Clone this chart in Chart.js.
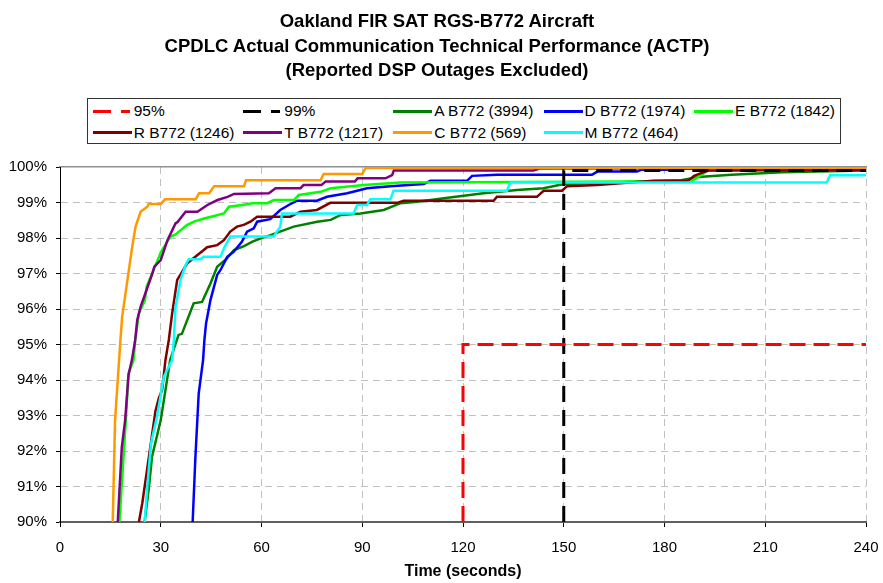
<!DOCTYPE html>
<html>
<head>
<meta charset="utf-8">
<script src="https://cdn.jsdelivr.net/npm/chart.js@4.4.0/dist/chart.umd.min.js"></script>
<style>
    html, body { margin: 0; padding: 0; background: #fff; }
    #wrap { position: relative; width: 883px; height: 583px; font-family: "Liberation Sans", Arial, sans-serif; color: #000; }
    #chart { position: absolute; left: 0; top: 0; }
    #title { position: absolute; left: 0; top: 9px; width: 874px; text-align: center; font-weight: bold; font-size: 18.5px; line-height: 24.6px; }
    #legend { position: absolute; left: 87px; top: 98px; width: 754px; height: 46px; border: 1px solid #333; box-sizing: border-box; background: #fff; }
    .item { position: absolute; display: flex; align-items: center; height: 20px; font-size: 15.5px; white-space: nowrap; }
    .swatch { width: 39px; height: 3px; margin-right: 2px; }
</style>
</head>
<body>
<div id="wrap">
    <canvas id="chart" width="883" height="583"></canvas>
    <div id="title">Oakland FIR SAT RGS-B772 Aircraft<br>CPDLC Actual Communication Technical Performance (ACTP)<br>(Reported DSP Outages Excluded)</div>
    <div id="legend"></div>
</div>
<script>
// ---------------------------------------------------------------------------
// Data (time in seconds, cumulative percent)
// ---------------------------------------------------------------------------
const xTicks = [0, 30, 60, 90, 120, 150, 180, 210, 240];
const yTicks = [90, 91, 92, 93, 94, 95, 96, 97, 98, 99, 100];

const ref95Time = [120, 120, 240];
const ref95Pct = [90, 95, 95];
const ref99Time = [150, 150, 240];
const ref99Pct = [90, 99.9, 99.9];

const aTime = [25.2, 26.5, 27.4, 30.0, 32.8, 34.8, 35.3, 36.3, 39.8, 42.3, 44.8, 46.8, 49.8, 51.8, 54.8, 57.3, 59.8, 62.7, 69.6, 76.6, 80.6, 83.6, 89.5, 96.4, 101.4, 106.4, 114.3, 126.1, 136.1, 144, 150, 160, 175, 185, 190, 200, 215, 240];
const aPct = [90, 91.0, 91.84, 92.87, 94.56, 95.13, 95.27, 95.3, 96.16, 96.2, 96.72, 97.19, 97.43, 97.66, 97.77, 97.9, 97.99, 98.08, 98.32, 98.46, 98.51, 98.65, 98.69, 98.79, 98.98, 99.02, 99.12, 99.26, 99.35, 99.4, 99.52, 99.55, 99.6, 99.63, 99.72, 99.78, 99.85, 99.9];

const dTime = [39.5, 40.3, 41.3, 42.6, 43.0, 43.5, 44.8, 46.8, 47.8, 49.8, 51.7, 54.2, 55.7, 57.7, 58.7, 62.6, 65.6, 68.1, 70.6, 76.5, 79.5, 85.5, 88.5, 91.4, 98.4, 108.3, 110.3, 121.2, 122.7, 130.1, 158.4, 160, 171.8, 173, 180.8, 182, 193, 195, 240];
const dPct = [90, 91.79, 93.62, 94.56, 95.13, 95.6, 96.25, 96.96, 97.1, 97.47, 97.61, 97.9, 98.18, 98.27, 98.46, 98.53, 98.79, 98.93, 99.05, 99.05, 99.16, 99.26, 99.33, 99.4, 99.46, 99.52, 99.61, 99.61, 99.75, 99.78, 99.78, 99.87, 99.87, 99.92, 99.92, 99.95, 99.95, 99.98, 99.98];

const eTime = [17.7, 19.6, 20.4, 21.9, 22.4, 23.5, 25.3, 25.8, 29.5, 30.0, 32.9, 34.4, 37.9, 39.9, 42.9, 45.9, 48.8, 50.3, 54.3, 57.3, 61.7, 63.7, 69.6, 71.1, 77.6, 80.6, 90.4, 101.3, 188, 193, 240];
const ePct = [90, 92.87, 94.19, 94.56, 95.13, 95.88, 96.25, 96.63, 97.47, 97.6, 98.04, 98.1, 98.37, 98.46, 98.55, 98.62, 98.69, 98.88, 98.93, 98.98, 98.98, 99.07, 99.07, 99.21, 99.3, 99.4, 99.49, 99.56, 99.6, 99.9, 99.95];

const rTime = [23.5, 24.5, 26.9, 28.4, 29.4, 30.4, 31.4, 32.4, 33.4, 34.9, 36.4, 37.9, 40.3, 42.8, 43.8, 46.8, 48.8, 50.7, 52.7, 54.7, 56.7, 58.7, 68.6, 71.6, 76.5, 80.5, 100.4, 102.3, 129.1, 130.1, 142, 144, 149.5, 151, 160, 176.8, 187, 188.8, 190.7, 193, 240];
const rPct = [90, 90.53, 92.12, 93.11, 93.48, 93.72, 94.56, 95.13, 95.88, 96.82, 97.05, 97.29, 97.47, 97.66, 97.74, 97.8, 97.94, 98.18, 98.32, 98.37, 98.46, 98.6, 98.6, 98.74, 98.79, 98.99, 98.99, 99.05, 99.05, 99.16, 99.16, 99.33, 99.33, 99.46, 99.49, 99.61, 99.61, 99.75, 99.82, 99.9, 99.92];

const tTime = [17.2, 18.4, 19.4, 20.4, 21.4, 22.4, 23.0, 24.0, 27.5, 28.1, 30.0, 32.0, 34.4, 35.0, 37.4, 40.9, 43.9, 46.9, 49.9, 51.8, 62.2, 64.2, 71.6, 72.5, 77.8, 79.1, 87.8, 88.6, 96.9, 98.9, 99.4, 141, 143, 240];
const tPct = [90, 92.1, 92.87, 94.14, 94.56, 95.13, 95.69, 96.06, 97.0, 97.19, 97.38, 97.94, 98.41, 98.45, 98.74, 98.74, 98.93, 99.07, 99.16, 99.24, 99.26, 99.4, 99.4, 99.49, 99.49, 99.59, 99.59, 99.68, 99.68, 99.77, 99.9, 99.9, 99.96, 99.98];

const cTime = [15.7, 16.4, 18.0, 18.5, 21.5, 22.5, 24.0, 26.0, 26.4, 30.0, 31.3, 40.4, 41.4, 44.4, 45.9, 54.8, 55.4, 77.6, 78.5, 90.0, 91.0, 240];
const cPct = [90, 92.87, 95.13, 95.78, 97.75, 98.32, 98.74, 98.88, 98.96, 98.96, 99.09, 99.09, 99.26, 99.26, 99.46, 99.46, 99.63, 99.63, 99.8, 99.8, 99.97, 99.98];

const mTime = [25.2, 26.0, 27.1, 28.9, 30.9, 33.4, 33.9, 34.4, 35.9, 37.4, 38.3, 41.8, 42.8, 47.8, 48.8, 50.7, 63.6, 65.6, 66.1, 87.4, 88.5, 91.4, 92.4, 98.4, 99.3, 133.1, 134.1, 228.3, 229.3, 240];
const mPct = [90, 91.0, 92.22, 92.97, 94.09, 94.56, 95.13, 96.06, 96.82, 97.24, 97.4, 97.4, 97.47, 97.47, 97.71, 98.04, 98.04, 98.32, 98.69, 98.69, 98.93, 98.93, 99.09, 99.09, 99.33, 99.33, 99.56, 99.56, 99.77, 99.77];

// ---------------------------------------------------------------------------
// Series setup
// ---------------------------------------------------------------------------
const FONT = '"Liberation Sans", Arial, sans-serif';
const pts = (t, p) => t.map((v, i) => ({ x: v, y: p[i] }));

const series = [
    { label: '95%', t: ref95Time, p: ref95Pct, color: '#ff0000', dash: [16, 8], order: 0 },
    { label: '99%', t: ref99Time, p: ref99Pct, color: '#000000', dash: [16, 8], order: 0 },
    { label: 'A B772 (3994)', t: aTime, p: aPct, color: '#008000', order: 7 },
    { label: 'D B772 (1974)', t: dTime, p: dPct, color: '#0000ff', order: 6 },
    { label: 'E B772 (1842)', t: eTime, p: ePct, color: '#00ff00', order: 5 },
    { label: 'R B772 (1246)', t: rTime, p: rPct, color: '#800000', order: 4 },
    { label: 'T B772 (1217)', t: tTime, p: tPct, color: '#800080', order: 3 },
    { label: 'C B772 (569)', t: cTime, p: cPct, color: '#ff9900', order: 2 },
    { label: 'M B772 (464)', t: mTime, p: mPct, color: '#00ffff', order: 1 }
];

const datasets = series.map(s => ({
    label: s.label,
    data: pts(s.t, s.p),
    borderColor: s.color,
    backgroundColor: s.color,
    borderWidth: s.dash ? 3 : 2.5,
    borderDash: s.dash || [],
    pointRadius: 0,
    tension: 0,
    fill: false,
    order: s.order
}));

// no automatic label overhang: the plot runs to 240 near the right edge
const noPad = s => { s.paddingLeft = 0; s.paddingRight = 0; };

// ---------------------------------------------------------------------------
// Chart
// ---------------------------------------------------------------------------
new Chart(document.getElementById('chart'), {
    type: 'line',
    data: { datasets },
    options: {
        responsive: false,
        animation: false,
        layout: { padding: { top: 167, right: 17, left: 0, bottom: 0 } },
        plugins: { legend: { display: false }, tooltip: { enabled: false } },
        scales: {
            x: {
                type: 'linear', position: 'bottom', min: 0, max: 240,
                afterBuildTicks: s => { s.ticks = xTicks.map(v => ({ value: v })); },
                ticks: { color: '#000', font: { size: 15, family: FONT }, padding: 12, maxRotation: 0 },
                grid: {
                    color: c => (c.tick && c.tick.value === 0) ? 'rgba(0,0,0,0)' : '#c0c0c0',
                    lineWidth: 1, tickLength: 5, tickColor: '#000'
                },
                border: { color: '#606060', width: 2, dash: [7, 5] },
                title: { display: true, text: 'Time (seconds)', color: '#000', font: { size: 16, weight: 'bold', family: FONT }, padding: { top: 0, bottom: 2 } },
                afterFit: s => { s.height = 61; noPad(s); }
            },
            xTop: {
                type: 'linear', position: 'top', min: 0, max: 240,
                ticks: { display: false },
                grid: { display: false, drawTicks: false },
                border: { color: '#909090', width: 1.5 },
                afterFit: s => { s.height = 0; noPad(s); }
            },
            y: {
                min: 90, max: 100,
                afterBuildTicks: s => { s.ticks = yTicks.map(v => ({ value: v })); },
                ticks: { color: '#000', font: { size: 15, family: FONT }, padding: 9, callback: v => v + '%' },
                grid: {
                    color: c => (c.tick && (c.tick.value === 90 || c.tick.value === 100)) ? 'rgba(0,0,0,0)' : '#c0c0c0',
                    lineWidth: 1, tickLength: 4, tickColor: '#000'
                },
                border: { color: '#000', width: 1, dash: [7, 5] },
                afterFit: s => { s.width = 60; }
            }
        }
    }
});

// ---------------------------------------------------------------------------
// Legend (boxed, two rows like the original)
// ---------------------------------------------------------------------------
const legendCols = [4.7, 155.3, 305.3, 455.6, 606];
const legendRows = [2.3, 23.7];
const legendEl = document.getElementById('legend');
series.forEach((s, i) => {
    const row = i < 5 ? 0 : 1;
    const col = i < 5 ? i : i - 5;
    const item = document.createElement('div');
    item.className = 'item';
    item.style.left = legendCols[col] + 'px';
    item.style.top = legendRows[row] + 'px';
    const sw = document.createElement('div');
    sw.className = 'swatch';
    if (s.dash) {
        sw.style.background = `linear-gradient(to right, ${s.color} 0 18px, transparent 18px 28px, ${s.color} 28px 37px, transparent 37px)`;
    } else {
        sw.style.background = s.color;
    }
    const txt = document.createElement('span');
    txt.textContent = s.label;
    item.appendChild(sw);
    item.appendChild(txt);
    legendEl.appendChild(item);
});
</script>
</body>
</html>
